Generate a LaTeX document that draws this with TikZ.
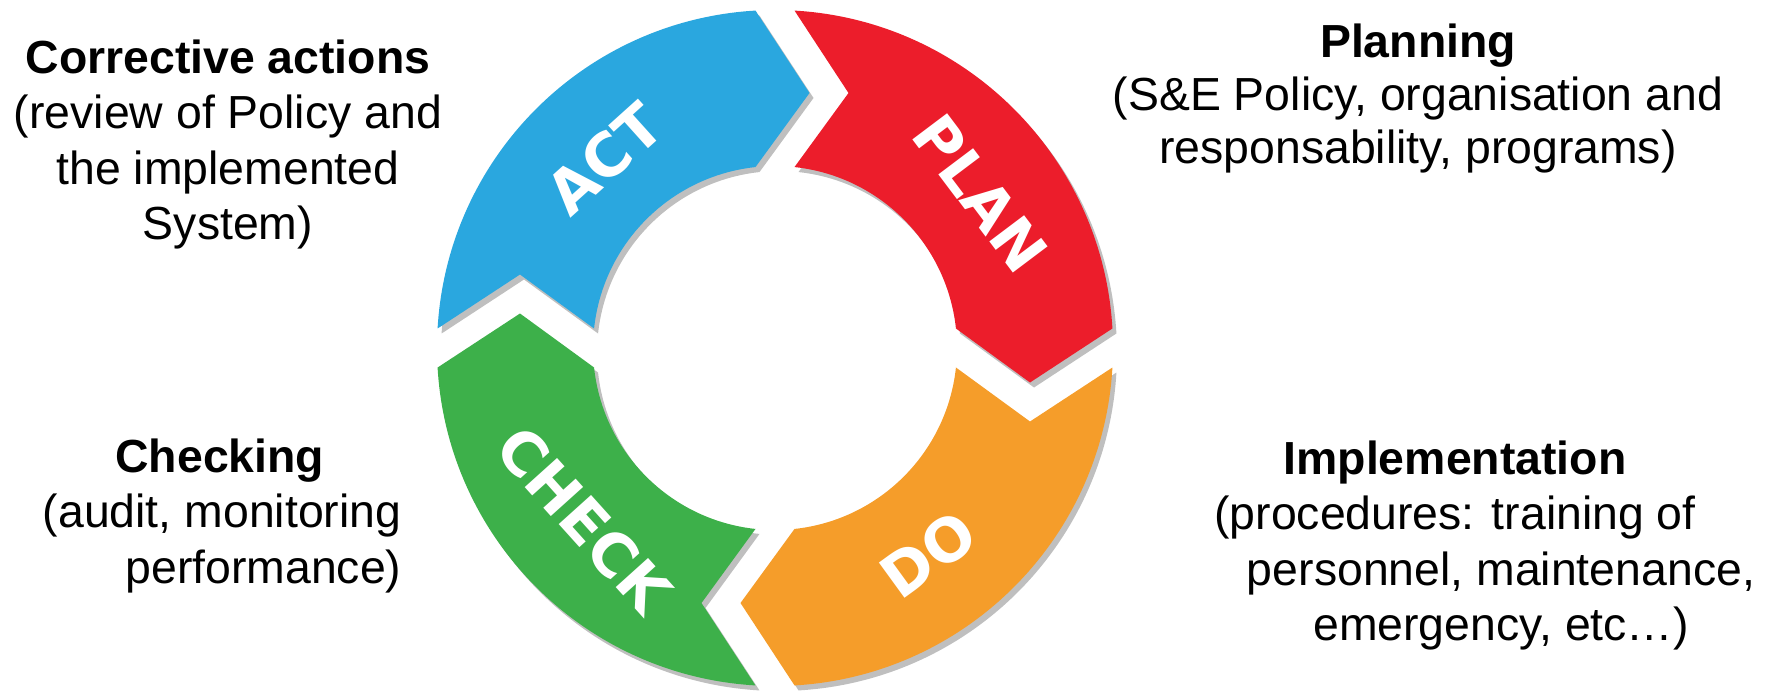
\documentclass[tikz,border=0pt]{standalone}
\usepackage{fontspec}
\setmainfont{Liberation Sans}
\newfontfamily\ringfont{DejaVu Sans}

\definecolor{actblue}{HTML}{2AA7DF}
\definecolor{planred}{HTML}{EC1D2B}
\definecolor{doorange}{HTML}{F59D2A}
\definecolor{checkgreen}{HTML}{3DB04A}

\tikzset{
	blocktext/.style={font=\fontsize{13.2}{15.8}\selectfont, inner sep=0pt},
	ringlabel/.style={font=\ringfont\bfseries\fontsize{17}{17}\selectfont, text=white, inner sep=0pt},
	ringshadow/.style={fill=black!25},
}
% one quarter of the ring, tail on top, head on the right
\newcommand{\ringpiece}{(86.69:3.38) arc[start angle=86.69, end angle=3.31, radius=3.38] -- (2.55,-0.345) -- (6.15:1.82) arc[start angle=6.15, end angle=83.85, radius=1.82] -- (0.735,2.55) -- cycle}

\begin{document}
\begin{tikzpicture}
	\useasboundingbox (0,0) rectangle (17.78,6.92);
	\foreach \rot/\col in {0/planred, -90/doorange, -180/checkgreen, -270/actblue}{
		\fill[ringshadow, shift={(7.79,3.39)}, rotate=\rot] \ringpiece;
		\fill[\col, shift={(7.75,3.44)}, rotate=\rot] \ringpiece;
	}
	\begin{scope}[shift={(7.75,3.44)}]
		\node[ringlabel, rotate=42] (act) at (132:2.55) {ACT};
		\node[ringlabel, rotate=-53] (plan) at (37:2.57) {PLAN};
		\node[ringlabel, rotate=36] (do) at (-53.5:2.57) {DO};
		\node[ringlabel, rotate=-48] (check) at (222:2.57) {CHECK};
	\end{scope}
	% texts
	\node[blocktext, anchor=north, align=center] (corrective) at (2.28,6.53) {\textbf{Corrective actions}\\(review of Policy and\\the implemented\\System)};
	\node[blocktext, anchor=north, align=center, font=\fontsize{13.2}{15.1}\selectfont] (planning) at (14.18,6.69) {\textbf{Planning}\\(S\&E Policy, organisation and\\responsability, programs)};
	\node[blocktext, anchor=north east, align=right] (checking) at (4.02,2.54) {\textbf{Checking}\rule{0.77cm}{0pt}\\(audit, monitoring\\performance)};
	\node[blocktext, anchor=north, align=center] (implementation) at (14.55,2.52) {\textbf{Implementation}\\(procedures: training of\\\rule{0.92cm}{0pt}personnel, maintenance,\\\rule{0.92cm}{0pt}emergency, etc…)};
\end{tikzpicture}
\end{document}
